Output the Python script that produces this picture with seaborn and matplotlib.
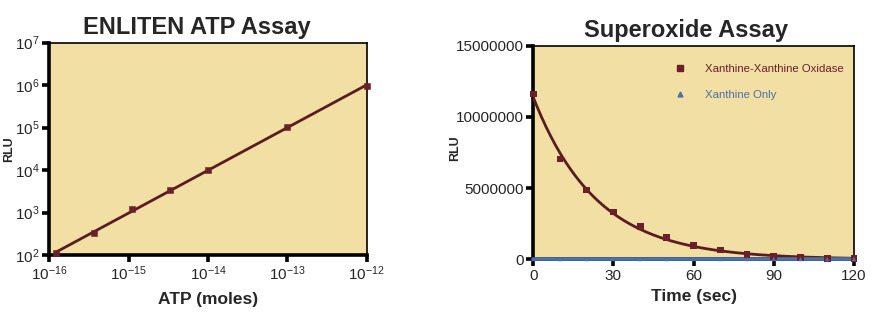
import numpy as np
import pandas as pd
import matplotlib
matplotlib.use("Agg")
import matplotlib.pyplot as plt
import seaborn as sns
from matplotlib.lines import Line2D

sns.set_theme(style="ticks")
plt.rcParams['font.family'] = ['Liberation Sans', 'DejaVu Sans']
plt.rcParams['mathtext.fontset'] = 'custom'
plt.rcParams['mathtext.rm'] = 'Liberation Sans'
plt.rcParams['mathtext.it'] = 'Liberation Sans'

# ---- data: ENLITEN ATP assay ----
atp_moles = [1.23e-16, 3.7e-16, 1.1e-15, 3.3e-15, 1.0e-14, 1.0e-13, 1.0e-12]
atp_rlu = [112, 335, 1190, 3330, 9800, 105000, 950000]
atp_xticks = [1e-16, 1e-15, 1e-14, 1e-13, 1e-12]
atp_xlabels = [r'$10^{-16}$', r'$10^{-15}$', r'$10^{-14}$', r'$10^{-13}$', r'$10^{-12}$']
atp_yticks = [1e2, 1e3, 1e4, 1e5, 1e6, 1e7]
atp_ylabels = [r'$10^{2}$', r'$10^{3}$', r'$10^{4}$', r'$10^{5}$', r'$10^{6}$', r'$10^{7}$']

# ---- data: Superoxide assay ----
time_sec = [0, 10, 20, 30, 40, 50, 60, 70, 80, 90, 100, 110, 120]
xxo_rlu = [11600000, 7040000, 4870000, 3320000, 2290000, 1520000, 960000,
           650000, 350000, 180000, 120000, 70000, 40000]
xonly_rlu = [20000] * 13
sup_xticks = [0, 30, 60, 90, 120]
sup_yticks = [0, 5000000, 10000000, 15000000]
series_names = ['Xanthine-Xanthine Oxidase', 'Xanthine Only']

BG = '#F1DFA3'
MAROON = '#6B1F2B'
LINE_MAROON = '#5A1C22'
BLUE = '#4A72A8'

fig = plt.figure(figsize=(8.77, 3.17), dpi=100)
ax1 = fig.add_axes([0.0562, 0.1956, 0.362, 0.670])
ax2 = fig.add_axes([0.608, 0.182, 0.3657, 0.674])

def style_axes(ax):
    ax.set_facecolor(BG)
    for s in ['left', 'bottom']:
        ax.spines[s].set_linewidth(2.6)
        ax.spines[s].set_color('black')
    for s in ['top', 'right']:
        ax.spines[s].set_visible(True)
        ax.spines[s].set_linewidth(1.2)
        ax.spines[s].set_color('black')
    ax.tick_params(axis='both', which='major', direction='out', length=5,
                   width=2.6, color='black', labelsize=11, pad=2)
    ax.tick_params(axis='both', which='minor', length=0)

# ---- left panel ----
df1 = pd.DataFrame({'moles': atp_moles, 'rlu': atp_rlu})
coef = np.polyfit(np.log10(df1['moles']), np.log10(df1['rlu']), 1)
fit_x = np.logspace(np.log10(min(atp_moles)), np.log10(max(atp_moles)), 50)
fit_df1 = pd.DataFrame({'moles': fit_x, 'rlu': 10 ** np.polyval(coef, np.log10(fit_x))})
ax1.set_xscale('log')
ax1.set_yscale('log')
sns.lineplot(data=fit_df1, x='moles', y='rlu', ax=ax1, color=LINE_MAROON, lw=2, zorder=3)
sns.scatterplot(data=df1, x='moles', y='rlu', ax=ax1, marker='s', s=22,
                color=MAROON, edgecolor=MAROON, zorder=4, clip_on=False)
ax1.set_xlim(1e-16, 1e-12)
ax1.set_ylim(1e2, 1e7)
ax1.set_xticks(atp_xticks)
ax1.set_xticklabels(atp_xlabels)
ax1.set_yticks(atp_yticks)
ax1.set_yticklabels(atp_ylabels)
style_axes(ax1)
ax1.set_title('ENLITEN ATP Assay', fontsize=17, fontweight='bold', pad=6, x=0.465)
ax1.set_xlabel('ATP (moles)', fontsize=12.5, fontweight='bold', labelpad=6)
ax1.set_ylabel('RLU', fontsize=9, fontweight='bold')
ax1.yaxis.set_label_coords(-0.108, 0.5)

# ---- right panel ----
df2 = pd.DataFrame({'t': time_sec * 2, 'rlu': xxo_rlu + xonly_rlu,
                    'series': [series_names[0]] * 13 + [series_names[1]] * 13})
t_arr = np.array(time_sec, dtype=float)
y_arr = np.array(xxo_rlu, dtype=float)
c = np.polyfit(t_arr, np.log(y_arr), 1, w=np.sqrt(y_arr))
k, a0 = -c[0], np.exp(c[1])
for _ in range(50):  # Gauss-Newton refinement of exponential fit
    f = a0 * np.exp(-k * t_arr)
    J = np.column_stack([np.exp(-k * t_arr), -a0 * t_arr * np.exp(-k * t_arr)])
    delta, *_ = np.linalg.lstsq(J, y_arr - f, rcond=None)
    a0 += delta[0]
    k += delta[1]
fit_t = np.linspace(0, 120, 200)
fit_df2 = pd.DataFrame({'t': fit_t, 'rlu': a0 * np.exp(-k * fit_t)})

sns.lineplot(data=fit_df2, x='t', y='rlu', ax=ax2, color=LINE_MAROON, lw=2, zorder=3)
sns.lineplot(data=df2[df2.series == series_names[1]], x='t', y='rlu', ax=ax2,
             color=BLUE, lw=2.6, zorder=4, clip_on=False)
sns.scatterplot(data=df2, x='t', y='rlu', hue='series', style='series',
                markers={series_names[0]: 's', series_names[1]: '^'},
                palette={series_names[0]: MAROON, series_names[1]: BLUE},
                size='series', sizes={series_names[0]: 24, series_names[1]: 10},
                linewidth=0, ax=ax2, zorder=5, clip_on=False, legend=False)
ax2.set_xlim(0, 120)
ax2.set_ylim(0, 15000000)
ax2.set_xticks(sup_xticks)
ax2.set_yticks(sup_yticks)
ax2.set_yticklabels([str(v) for v in sup_yticks])
style_axes(ax2)
ax2.set_title('Superoxide Assay', fontsize=17, fontweight='bold', pad=6, x=0.475)
ax2.set_xlabel('Time (sec)', fontsize=12.5, fontweight='bold', labelpad=4)
ax2.set_ylabel('RLU', fontsize=9, fontweight='bold')
ax2.yaxis.set_label_coords(-0.225, 0.52)

handles = [Line2D([], [], marker='s', ls='none', color=MAROON, markersize=5),
           Line2D([], [], marker='^', ls='none', color=BLUE, markersize=3.5)]
leg = ax2.legend(handles, series_names, loc='upper right', frameon=False,
                 fontsize=8.2, handletextpad=1.2, labelspacing=1.4,
                 bbox_to_anchor=(1.0, 0.96))
for txt, col in zip(leg.get_texts(), [MAROON, BLUE]):
    txt.set_color(col)

fig.savefig('out.png', dpi=100, facecolor='white')
